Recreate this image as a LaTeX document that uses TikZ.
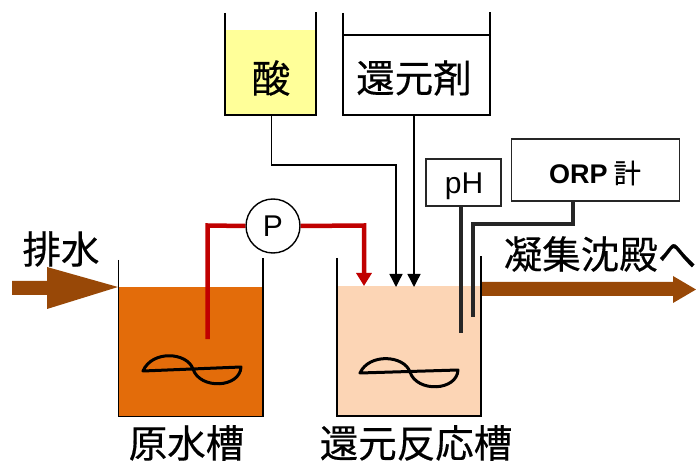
\documentclass[tikz,border=0pt]{standalone}
\usepackage{fontspec}
\setmainfont[FakeBold=0.35]{Noto Sans CJK JP}
\newfontfamily\latinlabel{Liberation Sans}
\newfontfamily\cjkbold[FakeBold=0.6]{Noto Sans CJK JP}
\usetikzlibrary{arrows.meta}
\definecolor{brownflow}{HTML}{984807}
\definecolor{rawfill}{HTML}{E36C0A}
\definecolor{reactfill}{HTML}{FCD5B5}
\definecolor{acidfill}{HTML}{FFFF99}
\definecolor{pipered}{HTML}{C00000}
\tikzset{
  x=1pt,y=-1pt,
  tankwall/.style={draw=black,line width=1.6pt},
  label/.style={inner sep=0pt,font=\fontsize{38.5}{38.5}\selectfont},
  thinfeed/.style={draw=black,line width=1.4pt,-{Triangle[length=13pt,width=13pt]}},
  redpipe/.style={draw=pipered,line width=4.5pt},
  probe/.style={draw=black!85,line width=3.6pt},
  instr/.style={draw=black!85,line width=1.5pt,fill=white,inner sep=0pt},
  paddle/.style={draw=black,line width=3pt,line join=round},
  flow/.style={fill=brownflow,draw=none},
}
\begin{document}
\begin{tikzpicture}
\useasboundingbox (0,0) rectangle (696,462);
% liquids
\fill[rawfill] (119,287) rectangle (262,416);
\fill[reactfill] (337,286) rectangle (481,416);
\fill[acidfill] (225,30) rectangle (316,115);
% tanks
\draw[tankwall] (118.5,260) -- (118.5,416.5) -- (263,416.5) -- (263,258);
\draw[tankwall] (337,258) -- (337,416) -- (481,416) -- (481,256);
\draw[tankwall] (225,13) -- (225,115) -- (316,115) -- (316,12);
\draw[tankwall] (343,13) -- (343,115) -- (490,115) -- (490,12);
\draw[tankwall] (343,35) -- (490,35);
% coordinates
\coordinate (acidout) at (271.5,115);
\coordinate (acidbend) at (271.5,165);
\coordinate (acidturn) at (396,165);
\coordinate (acidin) at (396,287);
\coordinate (redin) at (364,286);
\coordinate (redcorner) at (364,225.5);
\coordinate (reddown) at (207.5,339);
\coordinate (redup) at (207.5,225.5);
\coordinate (redout) at (414,115);
\coordinate (redarr) at (414,287);
% pump
\node[circle,draw=black,line width=1.4pt,fill=white,minimum size=54pt,inner sep=0pt,font=\latinlabel\fontsize{30}{30}\selectfont] (pump) at (273,226) {P};
% pipes
\draw[redpipe,line join=miter] (reddown) -- (redup) -- (pump.west);
\draw[redpipe,-{Triangle[length=13pt,width=15pt]}] (pump.east) -- (redcorner) -- (redin);
\draw[thinfeed] (acidout) -- (acidbend) -- (acidturn) -- (acidin);
\draw[thinfeed] (redout) -- (redarr);
% instruments
\node[instr,minimum width=75pt,minimum height=47pt] (ph) at (463.5,182.5) {};
\node[inner sep=0pt,font=\latinlabel\fontsize{30}{30}\selectfont] (phlabel) at (464,186) {pH};
\node[instr,minimum width=168pt,minimum height=62pt] (orp) at (595.5,170) {};
\node[inner sep=0pt,font=\fontsize{27}{27}\selectfont] (orplabel) at (595,173) {{\latinlabel\bfseries ORP} {\cjkbold 計}};
\coordinate (phend) at (461,333);
\coordinate (orpa) at (573,201);
\coordinate (orpb) at (573,224);
\coordinate (orpc) at (473,224);
\coordinate (orpd) at (473,317);
\draw[probe] (461,206) -- (phend);
\draw[probe,line join=miter] (orpa) -- (orpb) -- (orpc) -- (orpd);
% flow arrows
\fill[flow] (12,281) -- (47,281) -- (47,267) -- (118,287) -- (47,309) -- (47,295) -- (12,295) -- cycle;
\fill[flow] (482,282) -- (673,282) -- (673,276) -- (696,289.5) -- (673,303) -- (673,296) -- (482,296) -- cycle;
% paddles
\draw[paddle] (143,371) -- (241,367) .. controls (240,388) and (200,390) .. (193,369) .. controls (187,352) and (152,350) .. (143,371) -- cycle;
\draw[paddle] (360,373) -- (458,370) .. controls (457,391) and (417,393) .. (410,372) .. controls (404,355) and (369,353) .. (360,373) -- cycle;
% labels
\node[label] (l1) at (61,249) {排水};
\node[label] (l2) at (186.5,443) {原水槽};
\node[label] (l3) at (416,443) {還元反応槽};
\node[label] (l4) at (271,78) {酸};
\node[label] (l5) at (414,78) {還元剤};
\node[label] (l6) at (600,254) {凝集沈殿へ};
\end{tikzpicture}
\end{document}
